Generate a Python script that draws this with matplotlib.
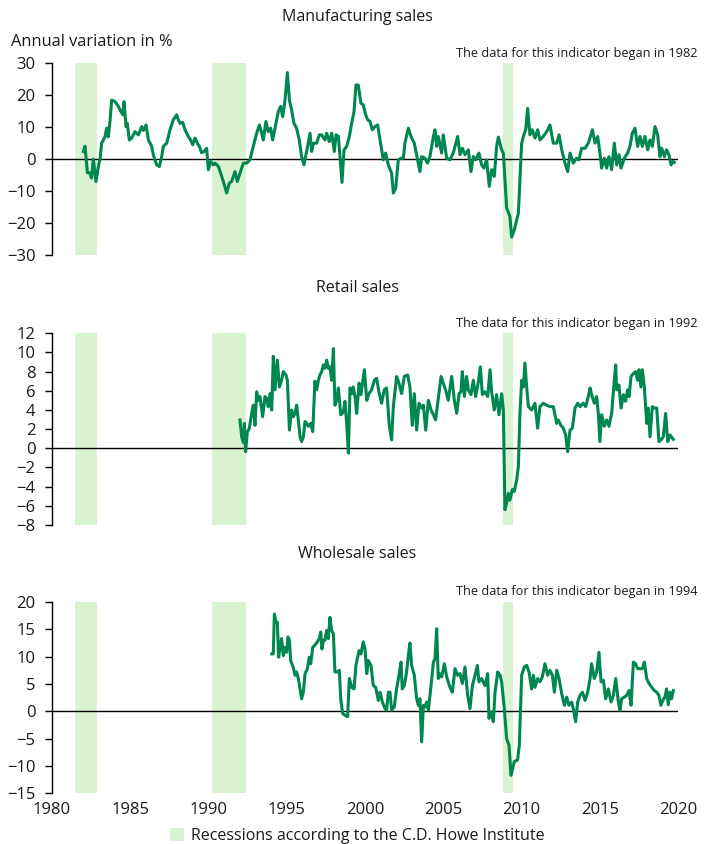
import matplotlib
matplotlib.use("Agg")
import matplotlib.pyplot as plt
from matplotlib.patches import Patch

plt.rcParams['font.family'] = ['Open Sans', 'DejaVu Sans']

# --- data (decimal year, annual variation in %) ---
manuf_years = [
    1982.00, 1982.11, 1982.26, 1982.39, 1982.53, 1982.64, 1982.81, 1983.00, 1983.07, 1983.17,
    1983.39, 1983.49, 1983.60, 1983.71, 1983.81, 1984.03, 1984.24, 1984.35, 1984.52, 1984.60,
    1984.73, 1984.81, 1984.94, 1985.09, 1985.30, 1985.52, 1985.73, 1985.84, 1986.01, 1986.16,
    1986.37, 1986.47, 1986.69, 1986.86, 1987.01, 1987.11, 1987.33, 1987.54, 1987.75, 1987.97,
    1988.07, 1988.18, 1988.35, 1988.50, 1988.71, 1988.86, 1988.99, 1989.14, 1989.29, 1989.41,
    1989.56, 1989.71, 1989.88, 1989.99, 1990.14, 1990.31, 1990.42, 1990.63, 1990.78, 1990.95,
    1991.16, 1991.33, 1991.48, 1991.69, 1991.84, 1992.01, 1992.23, 1992.44, 1992.65, 1992.86,
    1993.08, 1993.25, 1993.40, 1993.50, 1993.67, 1993.82, 1993.97, 1994.10, 1994.25, 1994.46,
    1994.61, 1994.74, 1994.89, 1995.04, 1995.17, 1995.31, 1995.46, 1995.63, 1995.80, 1995.95,
    1996.10, 1996.27, 1996.49, 1996.59, 1996.70, 1996.91, 1997.08, 1997.23, 1997.44, 1997.55,
    1997.72, 1997.87, 1998.04, 1998.15, 1998.30, 1998.45, 1998.53, 1998.66, 1998.83, 1999.00,
    1999.15, 1999.30, 1999.42, 1999.57, 1999.74, 1999.89, 2000.04, 2000.17, 2000.32, 2000.47,
    2000.64, 2000.81, 2000.96, 2001.17, 2001.32, 2001.49, 2001.70, 2001.81, 2001.96, 2002.13,
    2002.30, 2002.45, 2002.55, 2002.77, 2002.94, 2003.15, 2003.36, 2003.51, 2003.62, 2003.83,
    2004.00, 2004.15, 2004.37, 2004.47, 2004.58, 2004.68, 2004.90, 2005.00, 2005.22, 2005.43,
    2005.64, 2005.92, 2006.07, 2006.22, 2006.39, 2006.60, 2006.77, 2006.92, 2007.07, 2007.28,
    2007.45, 2007.60, 2007.77, 2007.94, 2008.09, 2008.26, 2008.41, 2008.52, 2008.73, 2008.84,
    2009.05, 2009.26, 2009.37, 2009.54, 2009.80, 2010.01, 2010.18, 2010.27, 2010.39, 2010.54,
    2010.69, 2010.86, 2011.03, 2011.18, 2011.39, 2011.61, 2011.82, 2012.03, 2012.25, 2012.40,
    2012.57, 2012.78, 2012.95, 2013.10, 2013.31, 2013.52, 2013.67, 2013.84, 2014.06, 2014.27,
    2014.53, 2014.70, 2014.87, 2015.01, 2015.12, 2015.29, 2015.44, 2015.59, 2015.76, 2015.93,
    2016.08, 2016.23, 2016.36, 2016.57, 2016.78, 2016.93, 2017.08, 2017.25, 2017.42, 2017.57,
    2017.72, 2017.89, 2018.06, 2018.21, 2018.36, 2018.53, 2018.70, 2018.85, 2018.96, 2019.13,
    2019.27, 2019.42, 2019.55, 2019.70, 2019.76]
manuf_values = [
    2.4, 4, -4.2, -4.2, -5.9, 0, -7, -1.3, 0, 5,
    7, 9.7, 7, 12, 18.5, 18, 16.5, 15.4, 13.9, 18,
    10.2, 11.2, 6, 6.6, 8.6, 7.6, 10.2, 9, 10.7, 6,
    4, 1.4, -1.8, -2.3, 0.8, 4, 5, 9.2, 12.3, 13.9,
    12.3, 11.2, 11.5, 9.2, 7.1, 6, 4.5, 6.6, 5, 4,
    2, 2.4, 3.4, -3.3, -0.7, -1.8, -1.25, -2.3, -4.4, -7,
    -10.6, -7.5, -7, -3.9, -7, -4.4, -1.25, -1.25, -0.2, 4,
    8.1, 10.7, 8.1, 6, 11.8, 8.6, 9.7, 6, 9.7, 14.9,
    16.5, 13.3, 18.5, 27.1, 18.5, 15.4, 11.25, 9.7, 6, 0.8,
    -1.8, 2.4, 8.1, 2.4, 5, 5, 7.6, 7.6, 6, 8.1,
    5.5, 8.1, 2.4, 7.6, 7.1, -2.3, -7.3, 2.9, 4, 7.1,
    11.25, 14.9, 23.2, 23.2, 17.5, 17, 13.9, 12.3, 11.8, 9.2,
    10.2, 10.7, 6, -0.2, 1.9, -1.8, -4.4, -10.6, -9.1, -0.2,
    0.3, 0.3, 5, 9.7, 7.1, 5, -0.2, -3.9, 0.8, 0.3,
    -1.25, 0.8, 7.1, 9.2, 4, 7.1, 1.9, 7.6, 0.3, -0.2,
    1.9, 7.1, 1.4, 3.4, 1.4, 2.9, -3.9, 0.8, -0.2, 1.9,
    -1.8, -2.8, -0.2, -8.5, -3.3, -5.4, 4, 6.9, 2.9, 1.9,
    -15.3, -17.9, -24.4, -22.1, -16.9, 5, 8.1, 9.2, 15.9, 7.6,
    9.2, 6.6, 9.2, 6, 7.1, 8.6, 10.7, 5, 5, 7.6,
    2.9, -1.25, -3.9, 1.9, -1.25, 0.3, -0.2, 3.4, 3.4, 5,
    9.2, 5, 7.1, 1.9, -2.8, 0.3, -2.8, 0.8, -3.3, 5,
    -1.8, 1.4, -2.8, 0.3, 1.9, 4, 8.1, 9.7, 4, 7.1,
    4, 7.1, 2.9, 6, 4, 10.2, 7.6, 0.8, 3.4, 0.8,
    2.9, 1.4, -1.8, -0.7, -1]

retail_years = [
    1992.01, 1992.12, 1992.23, 1992.29, 1992.37, 1992.48, 1992.61, 1992.76, 1992.86, 1992.97,
    1993.08, 1993.18, 1993.29, 1993.46, 1993.61, 1993.72, 1993.82, 1993.93, 1994.04, 1994.14,
    1994.25, 1994.40, 1994.53, 1994.67, 1994.78, 1994.95, 1995.04, 1995.17, 1995.31, 1995.42,
    1995.53, 1995.63, 1995.74, 1995.85, 1995.95, 1996.06, 1996.17, 1996.27, 1996.38, 1996.53,
    1996.66, 1996.80, 1996.91, 1997.02, 1997.12, 1997.23, 1997.34, 1997.44, 1997.55, 1997.66,
    1997.76, 1997.87, 1997.98, 1998.08, 1998.19, 1998.30, 1998.45, 1998.62, 1998.72, 1998.83,
    1998.94, 1999.04, 1999.15, 1999.25, 1999.36, 1999.47, 1999.62, 1999.74, 1999.96, 2000.11,
    2000.25, 2000.42, 2000.60, 2000.74, 2000.89, 2001.06, 2001.23, 2001.38, 2001.55, 2001.70,
    2001.81, 2002.02, 2002.17, 2002.34, 2002.51, 2002.73, 2002.87, 2003.02, 2003.15, 2003.30,
    2003.45, 2003.62, 2003.73, 2003.88, 2004.05, 2004.22, 2004.37, 2004.51, 2004.68, 2004.86,
    2005.00, 2005.15, 2005.32, 2005.54, 2005.71, 2005.86, 2006.01, 2006.13, 2006.22, 2006.35,
    2006.49, 2006.60, 2006.77, 2006.92, 2007.07, 2007.24, 2007.37, 2007.50, 2007.67, 2007.84,
    2007.99, 2008.09, 2008.26, 2008.41, 2008.56, 2008.73, 2008.84, 2008.94, 2009.05, 2009.16,
    2009.26, 2009.41, 2009.54, 2009.69, 2009.80, 2009.90, 2010.01, 2010.12, 2010.22, 2010.33,
    2010.44, 2010.65, 2010.86, 2011.03, 2011.18, 2011.39, 2011.61, 2011.82, 2012.03, 2012.25,
    2012.35, 2012.52, 2012.67, 2012.82, 2012.95, 2013.10, 2013.25, 2013.42, 2013.59, 2013.74,
    2013.95, 2014.10, 2014.27, 2014.38, 2014.48, 2014.65, 2014.80, 2014.91, 2015.01, 2015.12,
    2015.29, 2015.44, 2015.59, 2015.76, 2015.93, 2016.02, 2016.08, 2016.23, 2016.36, 2016.51,
    2016.65, 2016.78, 2016.87, 2017.00, 2017.15, 2017.29, 2017.42, 2017.51, 2017.63, 2017.72,
    2017.85, 2018.00, 2018.10, 2018.21, 2018.36, 2018.49, 2018.64, 2018.78, 2018.91, 2019.06,
    2019.21, 2019.34, 2019.49, 2019.59, 2019.70]
retail_values = [
    2.96, 1.2, 0.6, 2.6, -0.35, 1.7, 2.1, 3.65, 4.5, 2.4,
    5.9, 5.0, 5.4, 3.3, 5.4, 5.2, 4.35, 5.7, 4.0, 9.6,
    6.1, 9.2, 6.4, 7.1, 8.0, 7.65, 7.1, 1.9, 4.0, 3.3,
    3.65, 4.5, 2.96, 1.2, 0.7, 1.2, 2.8, 2.6, 2.3, 2.6,
    1.74, 7.0, 6.1, 7.1, 7.65, 8.0, 8.7, 8.35, 9.2, 8.35,
    8.5, 7.1, 10.4, 4.5, 5.0, 6.3, 3.5, 3.8, 4.9, 2.6,
    -0.5, 6.3, 5.7, 6.4, 5.4, 3.65, 6.8, 5.6, 8.2, 5.0,
    5.7, 6.1, 7.1, 7.3, 5.9, 4.7, 6.1, 6.3, 2.4, 0.87,
    4.35, 7.5, 6.8, 5.7, 7.5, 7.65, 6.4, 2.4, 5.7, 1.9,
    4.7, 4.2, 4.5, 1.9, 5.0, 4.0, 3.5, 2.96, 5.2, 7.5,
    6.8, 6.1, 5.0, 7.5, 5.0, 3.65, 5.7, 5.9, 8.0, 5.4,
    7.5, 6.1, 5.6, 7.1, 5.4, 6.9, 8.5, 5.6, 5.9, 5.4,
    8.2, 5.9, 4.0, 5.6, 3.5, 5.7, 4.0, -6.4, -5.7, -4.7,
    -5.4, -4.3, -4.5, -3.3, -1.9, 3.65, 7.1, 6.4, 8.9, 6.4,
    4.35, 4.0, 4.7, 2.1, 4.35, 4.7, 4.5, 4.35, 4.35, 2.6,
    2.96, 2.4, 2.1, 1.4, -0.35, 1.9, 2.1, 4.2, 4.7, 4.35,
    4.7, 4.35, 5.4, 6.3, 5.6, 4.7, 5.4, 3.65, 0.7, 3.5,
    2.3, 2.96, 2.3, 3.65, 7.1, 8.7, 6.1, 6.6, 4.2, 5.6,
    4.9, 6.1, 5.4, 7.5, 7.8, 8.0, 7.1, 8.2, 6.4, 8.2,
    6.4, 2.6, 4.2, 1.2, 4.35, 4.2, 4.2, 0.7, 0.87, 1.2,
    3.65, 0.7, 1.4, 1.15, 0.94]

wholesale_years = [
    1994.04, 1994.14, 1994.21, 1994.31, 1994.40, 1994.48, 1994.57, 1994.67, 1994.78, 1994.89,
    1994.99, 1995.08, 1995.17, 1995.25, 1995.42, 1995.53, 1995.63, 1995.74, 1995.85, 1995.95,
    1996.06, 1996.17, 1996.32, 1996.44, 1996.53, 1996.66, 1996.80, 1996.95, 1997.08, 1997.17,
    1997.25, 1997.34, 1997.44, 1997.55, 1997.66, 1997.76, 1997.87, 1997.98, 1998.08, 1998.23,
    1998.36, 1998.45, 1998.57, 1998.72, 1998.89, 1999.00, 1999.15, 1999.30, 1999.42, 1999.62,
    1999.74, 1999.89, 2000.00, 2000.11, 2000.21, 2000.38, 2000.53, 2000.68, 2000.85, 2000.96,
    2001.11, 2001.28, 2001.38, 2001.49, 2001.60, 2001.70, 2001.87, 2002.02, 2002.17, 2002.30,
    2002.38, 2002.51, 2002.66, 2002.77, 2002.87, 2002.98, 2003.15, 2003.30, 2003.41, 2003.51,
    2003.62, 2003.73, 2003.83, 2003.94, 2004.05, 2004.22, 2004.37, 2004.47, 2004.58, 2004.68,
    2004.79, 2004.90, 2005.07, 2005.22, 2005.43, 2005.58, 2005.75, 2005.92, 2006.07, 2006.22,
    2006.39, 2006.56, 2006.71, 2006.86, 2007.03, 2007.18, 2007.28, 2007.45, 2007.67, 2007.84,
    2007.92, 2008.05, 2008.20, 2008.31, 2008.48, 2008.63, 2008.73, 2008.90, 2009.05, 2009.20,
    2009.33, 2009.41, 2009.54, 2009.75, 2009.86, 2010.01, 2010.18, 2010.33, 2010.48, 2010.65,
    2010.76, 2010.86, 2011.03, 2011.18, 2011.33, 2011.50, 2011.67, 2011.82, 2011.97, 2012.10,
    2012.25, 2012.40, 2012.57, 2012.74, 2012.89, 2013.03, 2013.20, 2013.31, 2013.46, 2013.59,
    2013.74, 2013.89, 2014.06, 2014.23, 2014.38, 2014.48, 2014.65, 2014.80, 2014.95, 2015.08,
    2015.23, 2015.38, 2015.55, 2015.72, 2015.87, 2016.02, 2016.19, 2016.29, 2016.40, 2016.57,
    2016.72, 2016.87, 2017.00, 2017.15, 2017.29, 2017.42, 2017.57, 2017.72, 2017.85, 2018.00,
    2018.15, 2018.32, 2018.49, 2018.64, 2018.78, 2018.91, 2019.06, 2019.17, 2019.27, 2019.38,
    2019.49, 2019.59, 2019.70]
wholesale_values = [
    10.5, 10.5, 17.8, 16.3, 16.3, 9.9, 11.7, 13.3, 10.2, 11.7,
    10.8, 13.6, 13.0, 9.3, 8.0, 6.6, 7.2, 6.0, 4.1, 2.3,
    3.5, 6.9, 7.8, 9.9, 8.7, 11.7, 12.1, 12.7, 13.3, 14.5,
    11.4, 13.0, 13.0, 14.8, 13.3, 17.2, 14.8, 14.2, 7.2, 7.2,
    7.5, 2.3, -0.4, -0.7, -1.0, 6.0, 4.4, 4.1, 8.4, 11.1,
    10.5, 12.7, 11.4, 6.9, 9.3, 8.4, 4.7, 4.4, 2.0, 3.5,
    1.7, 0.5, 0.2, 3.5, 3.5, 0.2, 0.8, 4.1, 6.6, 9.0,
    4.1, 4.7, 7.2, 10.2, 12.5, 8.4, 6.6, 2.3, 1.1, 2.3,
    -5.6, 1.1, 0.8, 1.7, 0.2, 4.7, 9.0, 9.6, 15.1, 6.0,
    6.9, 6.3, 8.7, 6.3, 4.4, 3.5, 7.8, 6.6, 6.9, 5.1,
    8.1, 2.9, 0.5, 4.7, 6.6, 8.4, 5.4, 6.0, 4.7, 6.9,
    -1.3, -0.1, -1.9, 3.5, 7.2, 6.6, 5.4, 0.5, -5.0, -6.2,
    -11.7, -10.8, -9.2, -8.9, -6.2, 6.6, 8.1, 8.4, 7.2, 4.1,
    6.6, 4.4, 6.0, 5.4, 6.3, 8.7, 6.6, 7.5, 6.6, 3.5,
    7.5, 6.0, 3.2, 1.1, 2.6, 1.1, 1.7, 0.5, -1.9, 1.7,
    2.9, 3.5, 2.0, 3.5, 6.0, 8.7, 6.0, 7.2, 10.8, 5.4,
    5.7, 2.3, 4.1, 1.7, 2.9, 6.0, 1.7, 0.2, 2.3, 2.6,
    2.9, 3.8, 1.1, 9.0, 8.7, 7.8, 7.8, 7.8, 9.0, 6.0,
    5.1, 4.4, 3.8, 3.5, 2.9, 1.1, 2.2, 2.6, 4.1, 1.2,
    3.5, 2.3, 3.8]

recessions = [(1981.5, 1982.85), (1990.2, 1992.4), (2008.84, 2009.44)]

panel_titles = ["Manufacturing sales", "Retail sales", "Wholesale sales"]
start_notes = ["The data for this indicator began in 1982",
               "The data for this indicator began in 1992",
               "The data for this indicator began in 1994"]
y_ticks = [[-30, -20, -10, 0, 10, 20, 30],
           [-8, -6, -4, -2, 0, 2, 4, 6, 8, 10, 12],
           [-15, -10, -5, 0, 5, 10, 15, 20]]
x_ticks = [1980, 1985, 1990, 1995, 2000, 2005, 2010, 2015, 2020]

series = [(manuf_years, manuf_values), (retail_years, retail_values),
          (wholesale_years, wholesale_values)]

line_color = '#00874f'
band_color = '#d9f2d0'
text_color = '#1a1a1a'

fig = plt.figure(figsize=(7.15, 8.44), dpi=100)

W, H = 715.0, 844.0
# pixel boxes: (top, bottom) of each plotting area
boxes = [(63.3, 255.0), (333.3, 525.0), (602.0, 793.3)]
title_y = [17, 288, 554]
note_y = [53, 323, 592]

for i, (top, bot) in enumerate(boxes):
    ax = fig.add_axes([52 / W, 1 - bot / H, 626 / W, (bot - top) / H])
    for a, b in recessions:
        ax.axvspan(a, b, color=band_color, lw=0, zorder=0)
    ax.axhline(0, color='black', lw=1, zorder=1)
    xs, ys = series[i]
    ax.plot(xs, ys, color=line_color, lw=2.2, zorder=2, solid_joinstyle='round')
    ax.set_xlim(1980, 2020)
    ax.set_ylim(y_ticks[i][0], y_ticks[i][-1])
    ax.set_yticks(y_ticks[i])
    ax.tick_params(axis='y', direction='out', length=5, width=1, labelsize=12,
                   pad=7, labelcolor=text_color)
    for s in ['top', 'right', 'bottom']:
        ax.spines[s].set_visible(False)
    ax.spines['left'].set_linewidth(1)
    ax.set_xticks(x_ticks)
    if i == 2:
        ax.tick_params(axis='x', length=0, labelsize=12, pad=6, labelcolor=text_color)
    else:
        ax.tick_params(axis='x', length=0, labelbottom=False)
    fig.text(0.5, 1 - title_y[i] / H, panel_titles[i], ha='center', va='center',
             fontsize=11.5, color=text_color)
    fig.text(698 / W, 1 - note_y[i] / H, start_notes[i], ha='right', va='center',
             fontsize=9.2, color=text_color)

fig.text(11 / W, 1 - 42 / H, "Annual variation in %", ha='left', va='center',
         fontsize=11.8, color=text_color)

fig.legend(handles=[Patch(facecolor=band_color, edgecolor='none',
                          label="Recessions according to the C.D. Howe Institute")],
           loc='center', bbox_to_anchor=(357 / W, 1 - 836 / H), frameon=False,
           fontsize=11.5, handlelength=0.9, handleheight=0.9, handletextpad=0.4,
           labelcolor=text_color)

fig.savefig("out.png", dpi=100)
